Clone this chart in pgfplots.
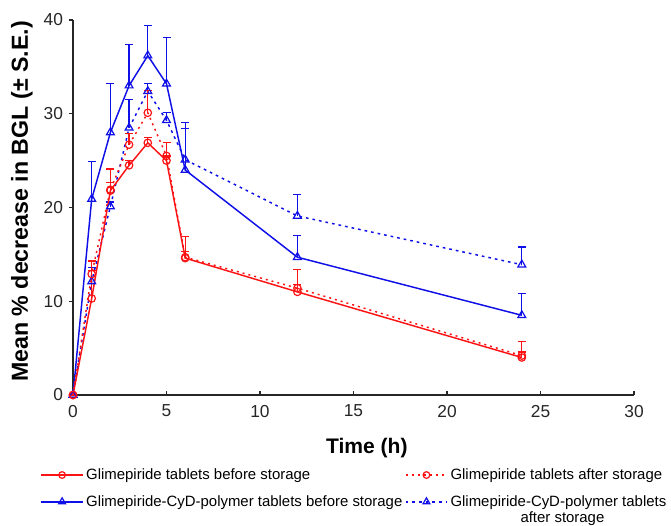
\documentclass[border=0pt]{standalone}
\usepackage{fontspec}
\setmainfont{Liberation Sans}
\usepackage{pgfplots}
\pgfplotsset{compat=1.18}

\definecolor{gred}{RGB}{252,20,20}
\definecolor{gblue}{RGB}{15,15,232}

\begin{document}
\begin{tikzpicture}
\begin{axis}[
  scale only axis,
  width=420.75pt, height=281.25pt,
  xmin=0, xmax=30, ymin=0, ymax=40,
  axis lines=left,
  axis line style={-, line width=0.9pt, black!85},
  xtick={0,5,...,30}, ytick={0,10,...,40},
  tick align=inside,
  major tick length=3pt,
  tick style={line width=0.8pt, black!85},
  ytick style={xshift=-3pt},
  /pgf/number format/assume math mode=true,
  tick label style={font=\fontsize{13}{15}\selectfont, black!85},
  xticklabel style={yshift=-4pt},
  yticklabel style={xshift=-4pt},
  xlabel={\bfseries Time (h)},
  ylabel={\bfseries Mean \% decrease in BGL (± S.E.)},
  xlabel style={font=\fontsize{15.8}{18}\selectfont,
    at={(axis description cs:0.5,0)}, anchor=center,
    xshift=10pt, yshift=-40pt},
  ylabel style={font=\fontsize{17.4}{20}\selectfont,
    at={(axis description cs:0,0.5)}, anchor=center,
    xshift=4.5pt, yshift=38.25pt},
  clip=false,
  legend columns=2,
  legend cell align=left,
  legend style={draw=none, fill=none, font=\fontsize{11.2}{13}\selectfont,
    at={(rel axis cs:0.5,0)}, anchor=north, xshift=1pt, yshift=-53pt,
    inner sep=0pt, row sep=6.5pt,
    /tikz/every even column/.append style={column sep=0pt}},
  legend image code/.code={
    \draw[mark repeat=2, mark phase=2, #1]
      plot coordinates {(0pt,0pt) (15.5pt,0pt) (31pt,0pt)};},
  error bars/y dir=plus,
  error bars/y explicit,
  error bars/error bar style={line width=1pt, solid},
  error bars/error mark options={rotate=90, mark size=3pt, line width=1pt},
]
% Glimepiride-CyD-polymer tablets, after storage
\addplot[gblue, line width=1.1pt, dash pattern=on 2pt off 3pt,
  mark=triangle, mark size=3.4pt, mark options={solid, line width=0.9pt},
  error bars/error bar style={draw=gblue},
  forget plot] coordinates {
  (0,0) +- (0,0)
  (1,12.1) +- (0,1.5)
  (2,20.1) +- (0,0.5)
  (3,28.5) +- (0,3.0)
  (4,32.4) +- (0,0.8)
  (5,29.3) +- (0,0.8)
  (6,25.1) +- (0,4.0)
  (12,19.1) +- (0,2.3)
  (24,13.9) +- (0,1.9)
};
% Glimepiride-CyD-polymer tablets, before storage
\addplot[gblue, line width=1.1pt,
  mark=triangle, mark size=3.4pt, mark options={solid, line width=0.9pt},
  error bars/error bar style={draw=gblue},
  forget plot] coordinates {
  (0,0) +- (0,0)
  (1,20.9) +- (0,4.0)
  (2,28.0) +- (0,5.2)
  (3,33.0) +- (0,4.4)
  (4,36.2) +- (0,3.2)
  (5,33.2) +- (0,4.9)
  (6,24.0) +- (0,4.4)
  (12,14.7) +- (0,2.3)
  (24,8.5) +- (0,2.3)
};
% Glimepiride tablets, after storage
\addplot[gred, line width=1.1pt, dash pattern=on 1.5pt off 3pt,
  mark=o, mark size=2.8pt, mark options={solid, line width=0.9pt},
  error bars/error bar style={draw=gred},
  forget plot] coordinates {
  (0,0) +- (0,0)
  (1,12.9) +- (0,1.4)
  (2,21.9) +- (0,0.8)
  (3,26.7) +- (0,1.2)
  (4,30.1) +- (0,2.4)
  (5,25.5) +- (0,1.4)
  (6,14.7) +- (0,0.6)
  (12,11.4) +- (0,2.0)
  (24,4.2) +- (0,1.5)
};
% Glimepiride tablets, before storage
\addplot[gred, line width=1.1pt,
  mark=o, mark size=2.8pt, mark options={solid, line width=0.9pt},
  error bars/error bar style={draw=gred},
  forget plot] coordinates {
  (0,0) +- (0,0)
  (1,10.3) +- (0,3.0)
  (2,21.8) +- (0,2.3)
  (3,24.5) +- (0,0.5)
  (4,26.9) +- (0,0.6)
  (5,25.0) +- (0,0.5)
  (6,14.6) +- (0,2.3)
  (12,11.0) +- (0,0.8)
  (24,4.0) +- (0,0.6)
};

\addlegendimage{gred, line width=1.1pt, solid, mark=o, mark size=2.5pt, mark options={solid, line width=0.9pt}}
\addlegendentry{Glimepiride tablets before storage}
\addlegendimage{gred, line width=1.1pt, dash pattern=on 1.5pt off 3pt, mark=o, mark size=2.5pt, mark options={solid, line width=0.9pt}}
\addlegendentry{Glimepiride tablets after storage}
\addlegendimage{gblue, line width=1.1pt, solid, mark=triangle, mark size=3pt, mark options={solid, line width=0.9pt}}
\addlegendentry{Glimepiride-CyD-polymer tablets before storage}
\addlegendimage{gblue, line width=1.1pt, dash pattern=on 2pt off 3pt, mark=triangle, mark size=3pt, mark options={solid, line width=0.9pt}}
\addlegendentry{\rlap{\raisebox{-12.5pt}[0pt][0pt]{\hspace{52.5pt}after storage}}Glimepiride-CyD-polymer tablets}

\coordinate (O) at (rel axis cs:0,0);
\end{axis}
\pgfresetboundingbox
\path ([shift={(-54.75pt,-97.5pt)}]O) rectangle ([shift={(448.5pt,296.25pt)}]O);
\end{tikzpicture}
\end{document}
